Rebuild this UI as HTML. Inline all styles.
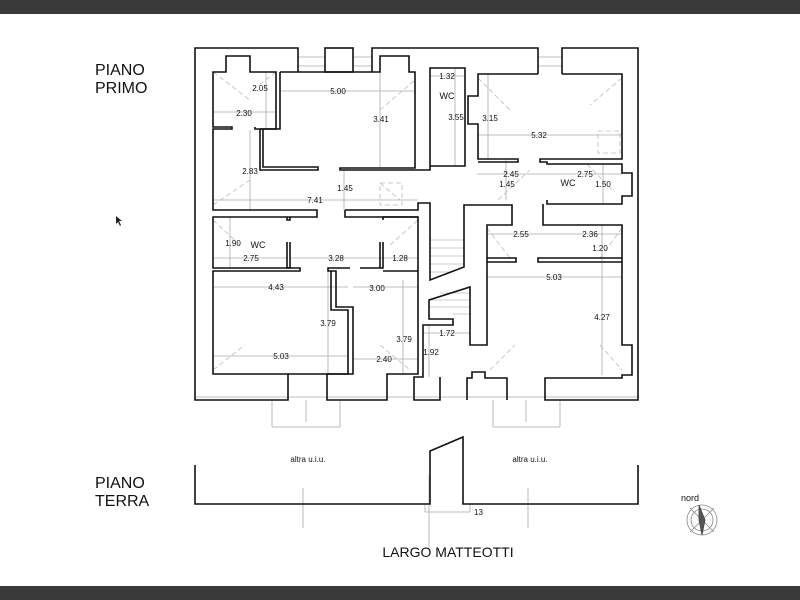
<!DOCTYPE html>
<html><head><meta charset="utf-8"><style>
html,body{margin:0;padding:0;background:#fff;}
svg{display:block}
text{font-family:"Liberation Sans",Arial,sans-serif;fill:#111}
</style></head><body>
<svg width="800" height="600" viewBox="0 0 800 600" xmlns="http://www.w3.org/2000/svg">
<rect width="800" height="600" fill="#fff"/>
<rect x="0" y="0" width="800" height="14" fill="#3a3a3a"/>
<rect x="0" y="586" width="800" height="14" fill="#3a3a3a"/>

<!-- gray dimension / diagonal lines -->
<g stroke="#aaa" stroke-width="0.8" fill="none">
<line x1="213" y1="112" x2="276" y2="112"/><line x1="266" y1="72" x2="266" y2="129"/>
<line x1="280" y1="91" x2="415" y2="91"/><line x1="380" y1="72" x2="380" y2="168"/>
<line x1="250" y1="130" x2="250" y2="210"/><line x1="213" y1="200" x2="418" y2="200"/>
<line x1="344" y1="170" x2="344" y2="210"/>
<line x1="429" y1="76" x2="465" y2="76"/><line x1="455" y1="68" x2="455" y2="166"/>
<line x1="488" y1="74" x2="488" y2="159"/><line x1="478" y1="135" x2="622" y2="135"/>
<line x1="477" y1="174" x2="547" y2="174"/><line x1="506" y1="159" x2="506" y2="200"/>
<line x1="547" y1="174" x2="622" y2="174"/><line x1="603" y1="164" x2="603" y2="204"/>
<line x1="213" y1="258" x2="287" y2="258"/><line x1="230" y1="217" x2="230" y2="268"/>
<line x1="290" y1="258" x2="383" y2="258"/><line x1="383" y1="258" x2="418" y2="258"/>
<line x1="213" y1="287" x2="348" y2="287"/><line x1="353" y1="287" x2="418" y2="287"/>
<line x1="328" y1="271" x2="328" y2="374"/><line x1="403" y1="280" x2="403" y2="374"/>
<line x1="213" y1="356" x2="348" y2="356"/><line x1="353" y1="359" x2="418" y2="359"/>
<line x1="423" y1="333" x2="470" y2="333"/><line x1="429" y1="325" x2="429" y2="377"/>
<line x1="487" y1="234" x2="622" y2="234"/><line x1="487" y1="277" x2="622" y2="277"/>
<line x1="602" y1="225" x2="602" y2="375"/>
<line x1="272" y1="400" x2="272" y2="427"/><line x1="272" y1="427" x2="340" y2="427"/><line x1="340" y1="427" x2="340" y2="400"/>
<line x1="306" y1="400" x2="306" y2="422"/>
<line x1="493" y1="400" x2="493" y2="427"/><line x1="493" y1="427" x2="560" y2="427"/><line x1="560" y1="427" x2="560" y2="400"/>
<line x1="526" y1="400" x2="526" y2="422"/>
<line x1="298" y1="57" x2="325" y2="57"/><line x1="298" y1="66" x2="325" y2="66"/>
<line x1="353" y1="57" x2="372" y2="57"/><line x1="353" y1="66" x2="372" y2="66"/>
<line x1="538" y1="57" x2="562" y2="57"/><line x1="538" y1="66" x2="562" y2="66"/>
<line x1="195" y1="397" x2="638" y2="397"/>
<line x1="303" y1="488" x2="303" y2="528"/><line x1="429" y1="475" x2="429" y2="548"/><line x1="528" y1="488" x2="528" y2="528"/>
<line x1="425" y1="504" x2="425" y2="512"/><line x1="425" y1="512" x2="470" y2="512"/><line x1="470" y1="512" x2="470" y2="504"/>
</g>
<g stroke="#bbb" stroke-width="0.8" fill="none" stroke-dasharray="5,3">
<line x1="213" y1="72" x2="250" y2="100"/><line x1="276" y1="72" x2="250" y2="92"/>
<line x1="380" y1="110" x2="415" y2="80"/><line x1="213" y1="205" x2="250" y2="180"/>
<line x1="478" y1="78" x2="510" y2="110"/><line x1="622" y1="78" x2="590" y2="105"/>
<line x1="498" y1="200" x2="530" y2="170"/><line x1="587" y1="164" x2="612" y2="190"/>
<line x1="213" y1="220" x2="240" y2="245"/><line x1="390" y1="245" x2="418" y2="220"/>
<line x1="213" y1="370" x2="245" y2="345"/><line x1="380" y1="345" x2="410" y2="370"/>
<line x1="487" y1="228" x2="510" y2="258"/><line x1="622" y1="228" x2="600" y2="258"/>
<line x1="490" y1="370" x2="515" y2="345"/><line x1="600" y1="345" x2="622" y2="370"/>
<rect x="380" y="183" width="22" height="22"/><rect x="598" y="131" width="22" height="22"/>
<line x1="380" y1="183" x2="400" y2="200"/>
</g>
<!-- stairs -->
<g stroke="#bbb" stroke-width="0.8">
<line x1="430" y1="240" x2="464" y2="240"/><line x1="430" y1="248" x2="464" y2="248"/><line x1="430" y1="256" x2="464" y2="256"/><line x1="430" y1="264" x2="464" y2="264"/><line x1="430" y1="272" x2="450" y2="272"/>
<line x1="429" y1="300" x2="470" y2="300"/><line x1="429" y1="307" x2="470" y2="307"/><line x1="440" y1="293" x2="470" y2="293"/><line x1="453" y1="314" x2="470" y2="314"/>
</g>

<!-- walls -->
<g stroke="#111" stroke-width="1.6" fill="none" stroke-linejoin="miter">
<polyline points="298,72 298,48 195,48 195,400 288,400 288,374 213,374 213,271 300,271 300,268 213,268 213,217 317,217 317,210 213,210 213,129 232,129 232,127 213,127 213,72 226,72 226,56 250,56 250,72 276,72 276,129 255,129 255,127"/>
<rect x="325" y="48" width="28" height="24"/>
<polyline points="372,72 372,48 538,48 538,74"/>
<polyline points="562,74 562,48 638,48 638,400 545,400 545,378 622,378 622,375 632,375 632,345 622,345 622,225 543,225 543,204"/>
<polyline points="280,72 380,72 380,56 409,56 409,72 415,72 415,168 340,168 340,170 430,170 430,68 465,68 465,166 430,166"/>
<polyline points="260,129 280,129 280,72"/>
<polyline points="260,129 260,170 318,170 318,167 263,167 263,129"/>
<polyline points="538,74 478,74 478,96 468,96 468,124 478,124 478,159 518,159 518,162 478,162"/>
<polyline points="562,74 622,74 622,159 540,159 540,162 547,162 547,164 622,164 622,173 632,173 632,196 622,196 622,204 547,204 547,200"/>
<polyline points="345,210 418,210 418,203 430,203 430,280 464,267 464,205 512,205 512,225 487,225 487,345 470,345 470,287 429,300 429,319 453,319 453,325 423,325 423,377 414,377 414,400 440,400 440,377"/>
<polyline points="345,210 345,217 418,217 418,374 387,374 387,400 327,400 327,374 353,374 353,307 336,307 336,271 328,271 328,268 350,268"/>
<polyline points="331,271 331,310 348,310 348,374 288,374"/>
<polyline points="418,217 383,217 383,220"/>
<polyline points="383,242 383,268 360,268"/>
<polyline points="380,242 380,268"/>
<polyline points="287,217 287,220 290,220 290,217"/>
<polyline points="287,242 287,268 290,268 290,242"/>
<polyline points="383,271 418,271"/>
<polyline points="467,400 467,378 472,378 472,372 485,372 485,378 507,378 507,400"/>
<polyline points="487,258 516,258 516,262 487,262"/>
<polyline points="622,258 538,258 538,262 622,262"/>
<line x1="545" y1="400" x2="545" y2="400"/>
<polyline points="195,465 195,504 430,504 430,451 463,437 463,504 638,504 638,465"/>
</g>

<!-- labels -->
<g font-size="8">
<text x="260" y="91" text-anchor="middle">2.05</text>
<text x="338" y="94" text-anchor="middle">5.00</text>
<text x="244" y="116" text-anchor="middle">2.30</text>
<text x="381" y="122" text-anchor="middle">3.41</text>
<text x="250" y="174" text-anchor="middle">2.83</text>
<text x="345" y="191" text-anchor="middle">1.45</text>
<text x="315" y="203" text-anchor="middle">7.41</text>
<text x="447" y="79" text-anchor="middle">1.32</text>
<text x="456" y="120" text-anchor="middle">3.55</text>
<text x="490" y="121" text-anchor="middle">3.15</text>
<text x="539" y="138" text-anchor="middle">5.32</text>
<text x="511" y="177" text-anchor="middle">2.45</text>
<text x="507" y="187" text-anchor="middle">1.45</text>
<text x="585" y="177" text-anchor="middle">2.75</text>
<text x="603" y="187" text-anchor="middle">1.50</text>
<text x="233" y="246" text-anchor="middle">1.90</text>
<text x="251" y="261" text-anchor="middle">2.75</text>
<text x="336" y="261" text-anchor="middle">3.28</text>
<text x="400" y="261" text-anchor="middle">1.28</text>
<text x="276" y="290" text-anchor="middle">4.43</text>
<text x="377" y="291" text-anchor="middle">3.00</text>
<text x="328" y="326" text-anchor="middle">3.79</text>
<text x="404" y="342" text-anchor="middle">3.79</text>
<text x="281" y="359" text-anchor="middle">5.03</text>
<text x="384" y="362" text-anchor="middle">2.40</text>
<text x="447" y="336" text-anchor="middle">1.72</text>
<text x="431" y="355" text-anchor="middle">1.92</text>
<text x="521" y="237" text-anchor="middle">2.55</text>
<text x="590" y="237" text-anchor="middle">2.36</text>
<text x="600" y="251" text-anchor="middle">1.20</text>
<text x="554" y="280" text-anchor="middle">5.03</text>
<text x="602" y="320" text-anchor="middle">4.27</text>
<text x="474" y="515">13</text>
<text x="308" y="462" text-anchor="middle">altra u.i.u.</text>
<text x="530" y="462" text-anchor="middle">altra u.i.u.</text>
</g>
<g font-size="9">
<text x="447" y="99" text-anchor="middle">WC</text>
<text x="258" y="248" text-anchor="middle">WC</text>
<text x="568" y="186" text-anchor="middle">WC</text>
<text x="690" y="501" text-anchor="middle">nord</text>
</g>
<g font-size="16">
<text x="95" y="75">PIANO</text><text x="95" y="93">PRIMO</text>
<text x="95" y="488">PIANO</text><text x="95" y="506">TERRA</text>
</g>
<text x="448" y="557" font-size="14" text-anchor="middle">LARGO MATTEOTTI</text>
<!-- compass -->
<g stroke="#888" stroke-width="0.8" fill="none">
<circle cx="702" cy="520" r="15"/><circle cx="702" cy="520" r="11"/>
<line x1="690" y1="532" x2="714" y2="508"/><line x1="690" y1="508" x2="714" y2="532"/>
<path d="M699,505 L705,520 L702,535 L699,520 Z" fill="#555" stroke="#444"/>
</g>
<path d="M116,216 L116,224 L118,222 L120,226 L121,225 L119,221 L122,221 Z" fill="#222"/>
</svg>
</body></html>
